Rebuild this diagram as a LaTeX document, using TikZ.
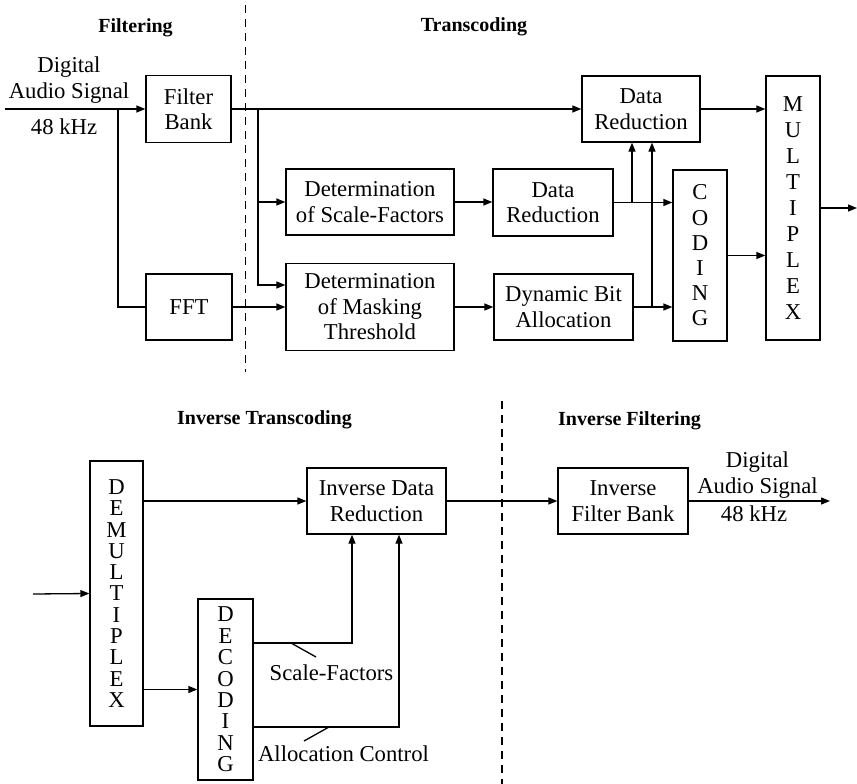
\documentclass[tikz,border=0pt]{standalone}
\usepackage{fontspec}
\setmainfont{Liberation Serif}
\usetikzlibrary{arrows.meta}
\begin{document}
\begin{tikzpicture}[x=1pt,y=-1pt,
  box/.style={draw,line width=1.3pt,inner sep=0pt,align=center,font=\fontsize{22.7}{25.5}\selectfont},
  vbox/.style={box,font=\fontsize{22.7}{#1}\selectfont},
  lbl/.style={inner sep=0pt,align=center,font=\fontsize{22.7}{25.5}\selectfont},
  hdr/.style={inner sep=0pt,font=\fontsize{20}{24}\selectfont\bfseries},
  con/.style={line width=1.3pt},
  arr/.style={con,-{Triangle[length=9pt,width=7pt]}},
  sep/.style={line width=1.1pt,dash pattern=on 8pt off 6pt}]
\useasboundingbox (0,0) rectangle (857,784);

% headers
\node[hdr] (hf) at (135.5,28) {Filtering};
\node[hdr] (ht) at (474,27) {Transcoding};
\node[hdr] (hit) at (264.5,420) {Inverse Transcoding};
\node[hdr] (hif) at (629.5,421) {Inverse Filtering};

% separators
\draw[sep] (245.5,5) -- (245.5,372);
\draw[sep] (502,401) -- (502,784);

% top boxes
\node[box,minimum width=85pt,minimum height=67pt] (fb) at (188.5,109) {Filter\\Bank};
\node[box,minimum width=86pt,minimum height=66pt] (fft) at (189,307) {FFT};
\node[box,minimum width=168pt,minimum height=66pt] (dsf) at (370,202) {Determination\\of Scale-Factors};
\node[box,minimum width=168pt,minimum height=87pt] (dmt) at (370,307) {Determination\\of Masking\\Threshold};
\node[box,minimum width=120pt,minimum height=67pt] (dr2) at (553,202.5) {Data\\Reduction};
\node[box,minimum width=139pt,minimum height=66pt] (dba) at (563.5,307) {Dynamic Bit\\Allocation};
\node[box,minimum width=118pt,minimum height=66pt] (dr1) at (641,109) {Data\\Reduction};
\node[vbox=25.2,minimum width=54pt,minimum height=171pt] (cod) at (700,255.5) {C\\O\\D\\I\\N\\G};
\node[vbox=25.9,minimum width=54pt,minimum height=264pt] (mux) at (793,208) {M\\U\\L\\T\\I\\P\\L\\E\\X};

% top labels
\node[lbl] (in1a) at (69,80) {Digital\\Audio Signal};
\node[lbl] (in1b) at (64,127) {48 kHz};

% top connectors
\coordinate (in1) at (5,109);
\coordinate (b1) at (118,109);
\coordinate (b2) at (258,109);
\coordinate (c1) at (632,202.5);
\coordinate (c2) at (652,307);
\coordinate (out1) at (857,208);
\draw[arr] (in1) -- (fb.west);
\draw[con] (b1) |- (fft.west);
\draw[arr] (fb.east) -- (dr1.west);
\draw[arr] (b2) |- (dsf.west);
\draw[arr] (b2) |- ([yshift=22pt]dmt.west);
\draw[arr] (fft.east) -- (dmt.west);
\draw[arr] (dsf.east) -- (dsf.east -| dr2.west);
\draw[arr] (dmt.east) -- (dba.west);
\draw[arr] (dr2.east) -- (dr2.east -| cod.west);
\draw[arr] (dba.east) -- (dba.east -| cod.west);
\draw[arr] (c1) -- (c1 |- dr1.south);
\draw[arr] (c2) -- (c2 |- dr1.south);
\draw[arr] (dr1.east) -- (dr1.east -| mux.west);
\draw[arr] (cod.east) -- (cod.east -| mux.west);
\draw[arr] (mux.east) -- (out1);

% bottom boxes
\node[vbox=21.3,minimum width=53pt,minimum height=265pt] (dmx) at (116.5,593.5) {D\\E\\M\\U\\L\\T\\I\\P\\L\\E\\X};
\node[vbox=21.4,minimum width=55pt,minimum height=181pt] (dec) at (225.5,689.5) {D\\E\\C\\O\\D\\I\\N\\G};
\node[box,minimum width=139pt,minimum height=66pt] (idr) at (376.5,501) {Inverse Data\\Reduction};
\node[box,minimum width=130pt,minimum height=66pt] (ifb) at (623,501) {Inverse\\Filter Bank};

% bottom labels
\node[lbl] (out2a) at (757.5,475) {Digital\\Audio Signal};
\node[lbl] (out2b) at (754,514) {48 kHz};
\node[lbl] (sfl) at (331.5,673) {Scale-Factors};
\node[lbl] (acl) at (343.5,754) {Allocation Control};

% bottom connectors
\coordinate (in2) at (33,594);
\coordinate (out2) at (830,501);
\draw[arr] (in2) -- (dmx.west);
\draw[arr] (dmx.east |- idr.west) -- (idr.west);
\draw[arr] (dmx.east |- dec.west) -- (dec.west);
\draw[arr] (idr.east) -- (ifb.west);
\draw[arr] (ifb.east) -- (out2);
\draw[arr] ([yshift=46.5pt]dec.east) -| ([xshift=-24.5pt]idr.south);
\draw[arr] ([yshift=-37.5pt]dec.east) -| ([xshift=22.5pt]idr.south);
\draw[con] (291,643) -- (316,657);
\draw[con] (329,727) -- (304,741);
\end{tikzpicture}
\end{document}
